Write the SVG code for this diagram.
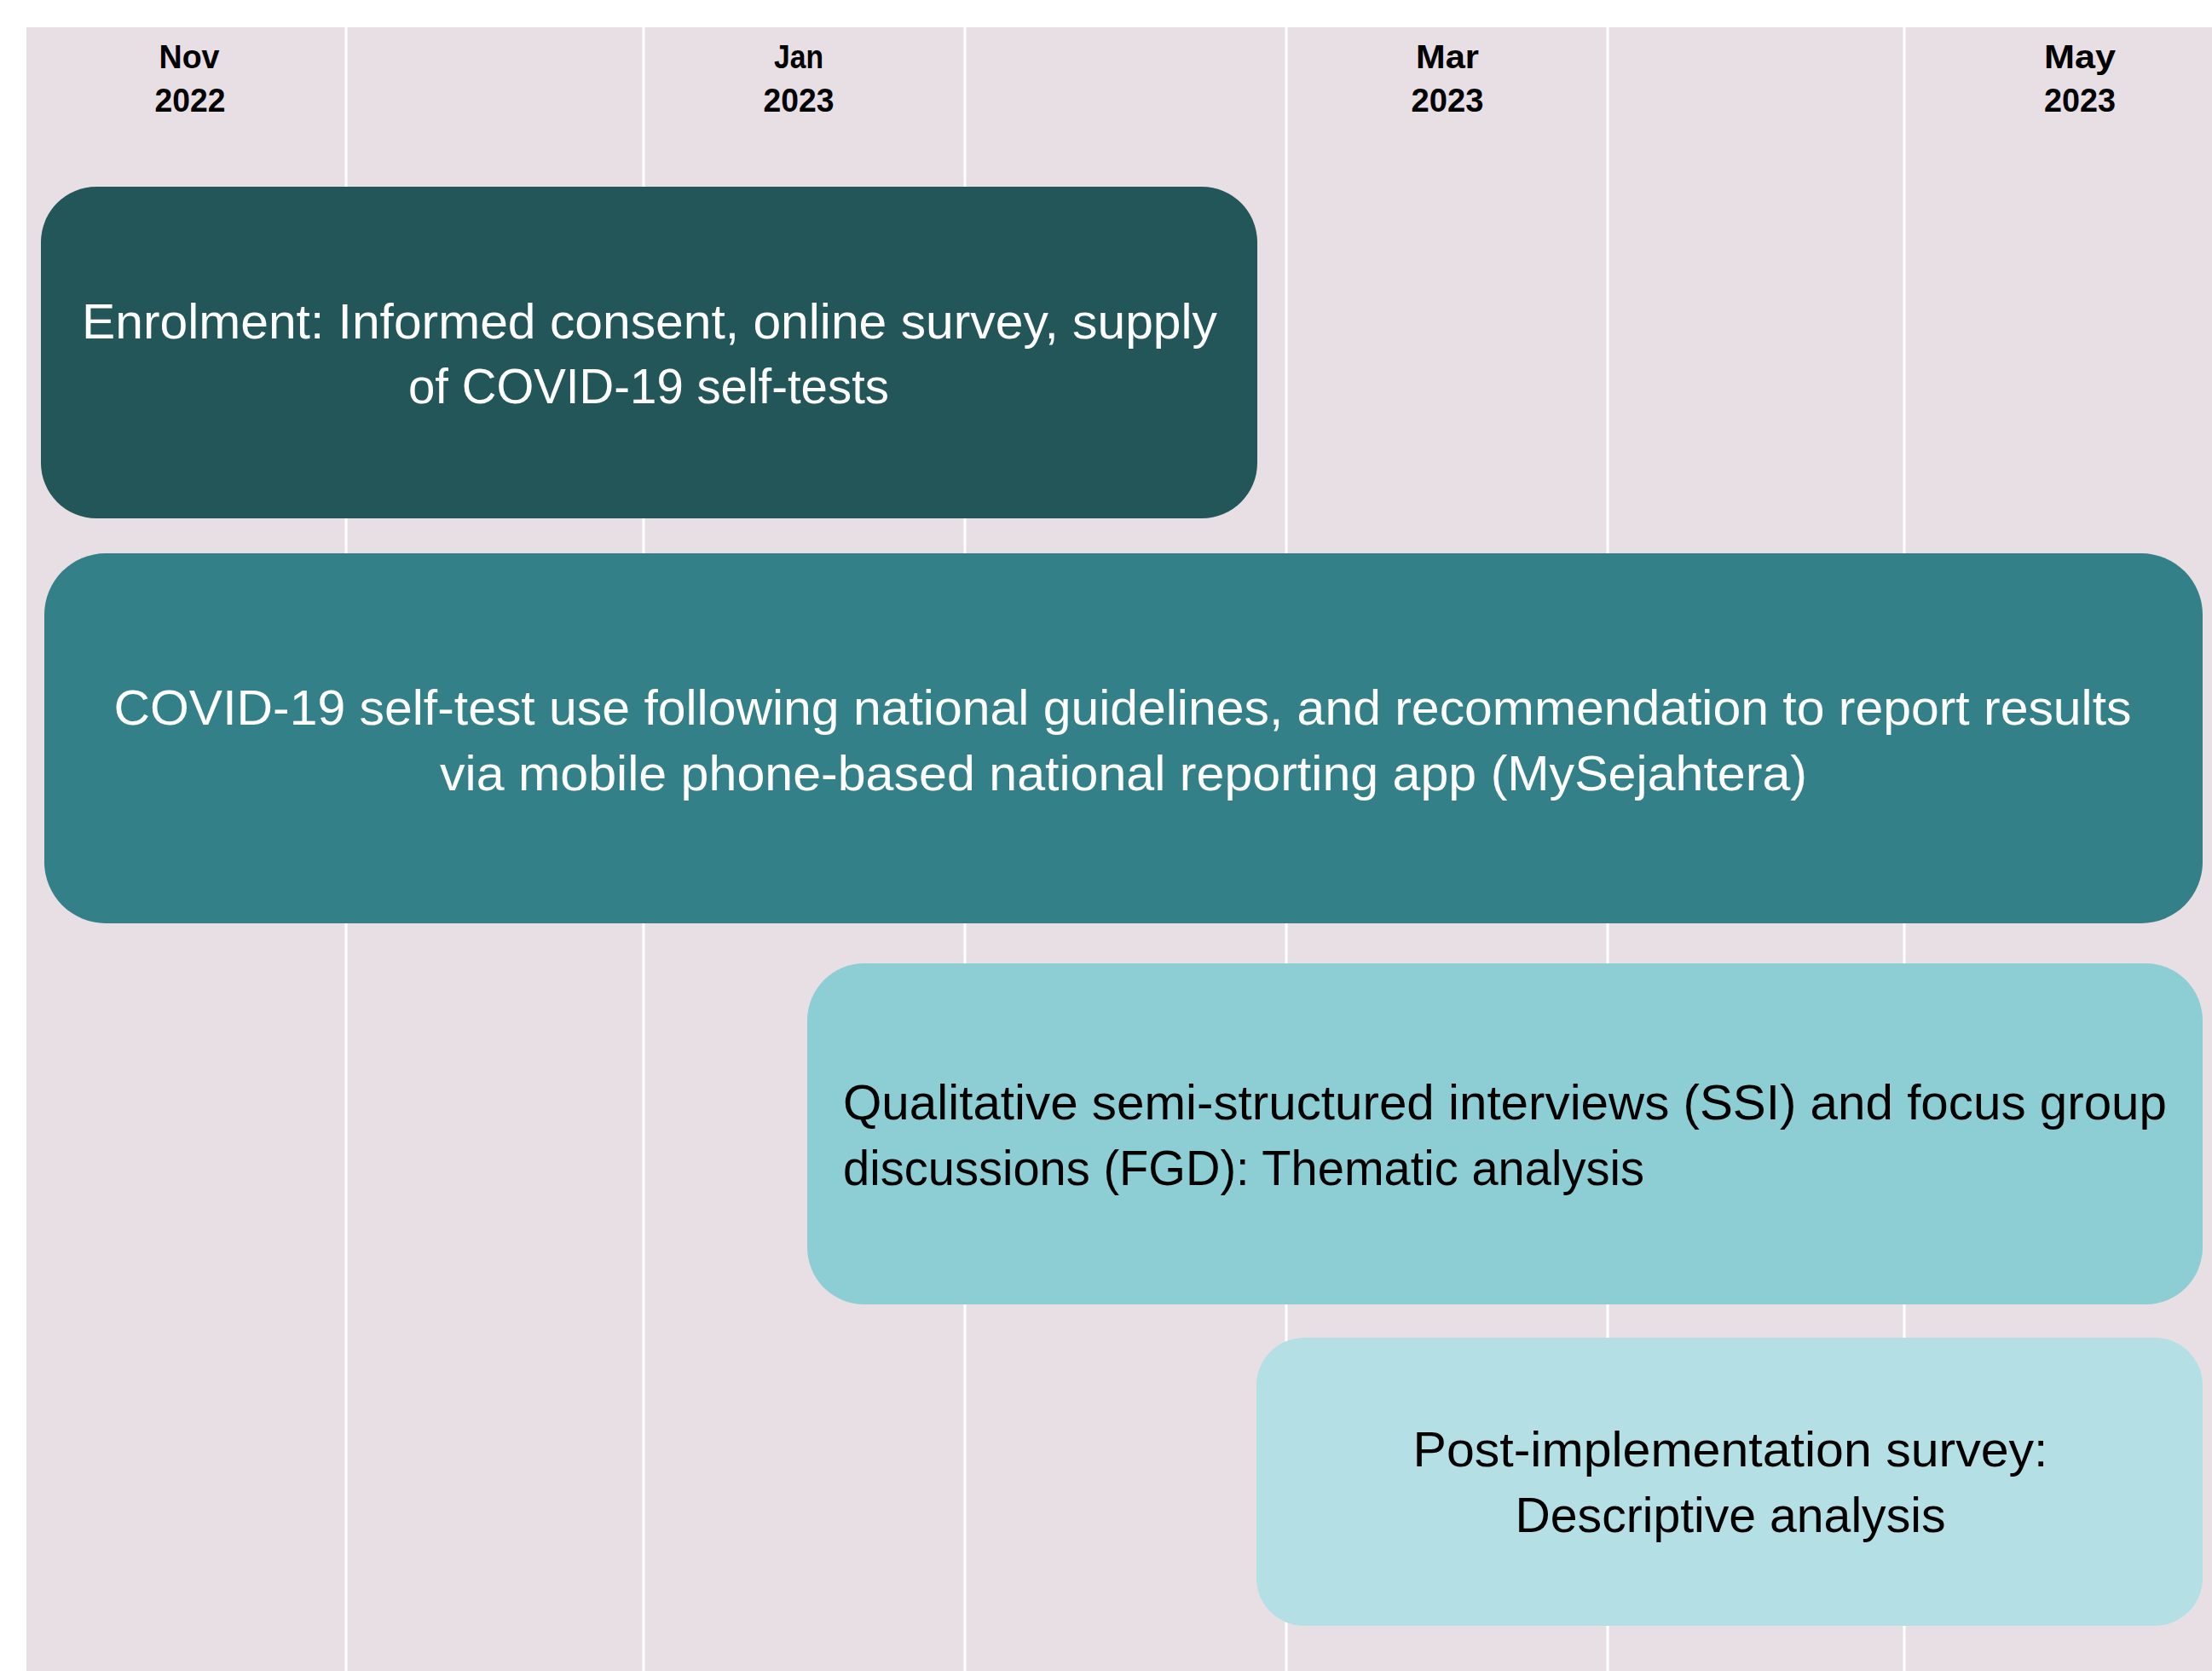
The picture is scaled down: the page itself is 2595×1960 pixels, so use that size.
<svg xmlns="http://www.w3.org/2000/svg" width="2595" height="1960" viewBox="0 0 2595 1960">
  <style>
    .month { font-family: "Liberation Sans", Arial, sans-serif; font-weight: bold; font-size: 38px; fill: #000000; text-anchor: middle; }
    .label { font-family: "Liberation Sans", Arial, sans-serif; font-size: 58px; }
    .light { fill: #FFFFFF; }
    .dark { fill: #000000; }
    .grid line { stroke: #FFFFFF; stroke-width: 3; }
  </style>

  <!-- page and timeline background -->
  <rect x="0" y="0" width="2595" height="1960" fill="#FFFFFF"/>
  <rect x="31" y="32" width="2564" height="1928" fill="#E8DFE5"/>

  <!-- month gridlines -->
  <g id="grid" class="grid">
    <line x1="406" y1="32" x2="406" y2="1960"/>
    <line x1="755" y1="32" x2="755" y2="1960"/>
    <line x1="1132" y1="32" x2="1132" y2="1960"/>
    <line x1="1509" y1="32" x2="1509" y2="1960"/>
    <line x1="1886" y1="32" x2="1886" y2="1960"/>
    <line x1="2234" y1="32" x2="2234" y2="1960"/>
  </g>

  <!-- month headings -->
  <g id="axis">
    <text class="month" x="222" y="80" textLength="71" lengthAdjust="spacingAndGlyphs">Nov</text>
    <text class="month" x="223" y="131" textLength="83" lengthAdjust="spacingAndGlyphs">2022</text>
    <text class="month" x="937" y="80" textLength="58" lengthAdjust="spacingAndGlyphs">Jan</text>
    <text class="month" x="937" y="131" textLength="83" lengthAdjust="spacingAndGlyphs">2023</text>
    <text class="month" x="1698" y="80" textLength="74" lengthAdjust="spacingAndGlyphs">Mar</text>
    <text class="month" x="1698" y="131" textLength="85" lengthAdjust="spacingAndGlyphs">2023</text>
    <text class="month" x="2440" y="80" textLength="84" lengthAdjust="spacingAndGlyphs">May</text>
    <text class="month" x="2440" y="131" textLength="84" lengthAdjust="spacingAndGlyphs">2023</text>
  </g>

  <!-- study phases -->
  <g id="enrolment">
    <rect x="48" y="219" width="1427" height="389" rx="65" ry="65" fill="#235659"/>
    <text class="label light" x="762" y="397" text-anchor="middle" textLength="1332" lengthAdjust="spacingAndGlyphs">Enrolment: Informed consent, online survey, supply</text>
    <text class="label light" x="761" y="473" text-anchor="middle" textLength="564" lengthAdjust="spacingAndGlyphs">of COVID-19 self-tests</text>
  </g>

  <g id="self-test-use">
    <rect x="52" y="649" width="2532" height="434" rx="72" ry="72" fill="#338088"/>
    <text class="label light" x="1317" y="850" text-anchor="middle" textLength="2367" lengthAdjust="spacingAndGlyphs">COVID-19 self-test use following national guidelines, and recommendation to report results</text>
    <text class="label light" x="1318" y="927" text-anchor="middle" textLength="1604" lengthAdjust="spacingAndGlyphs">via mobile phone-based national reporting app (MySejahtera)</text>
  </g>

  <g id="qualitative">
    <rect x="947" y="1130" width="1637" height="400" rx="67" ry="67" fill="#8DCDD4"/>
    <text class="label dark" x="989" y="1313" textLength="1553" lengthAdjust="spacingAndGlyphs">Qualitative semi-structured interviews (SSI) and focus group</text>
    <text class="label dark" x="989" y="1390" textLength="940" lengthAdjust="spacingAndGlyphs">discussions (FGD): Thematic analysis</text>
  </g>

  <g id="post-survey">
    <rect x="1474" y="1569" width="1110" height="338" rx="56" ry="56" fill="#B4DFE4"/>
    <text class="label dark" x="2030" y="1720" text-anchor="middle" textLength="745" lengthAdjust="spacingAndGlyphs">Post-implementation survey:</text>
    <text class="label dark" x="2030" y="1797" text-anchor="middle" textLength="505" lengthAdjust="spacingAndGlyphs">Descriptive analysis</text>
  </g>
</svg>
